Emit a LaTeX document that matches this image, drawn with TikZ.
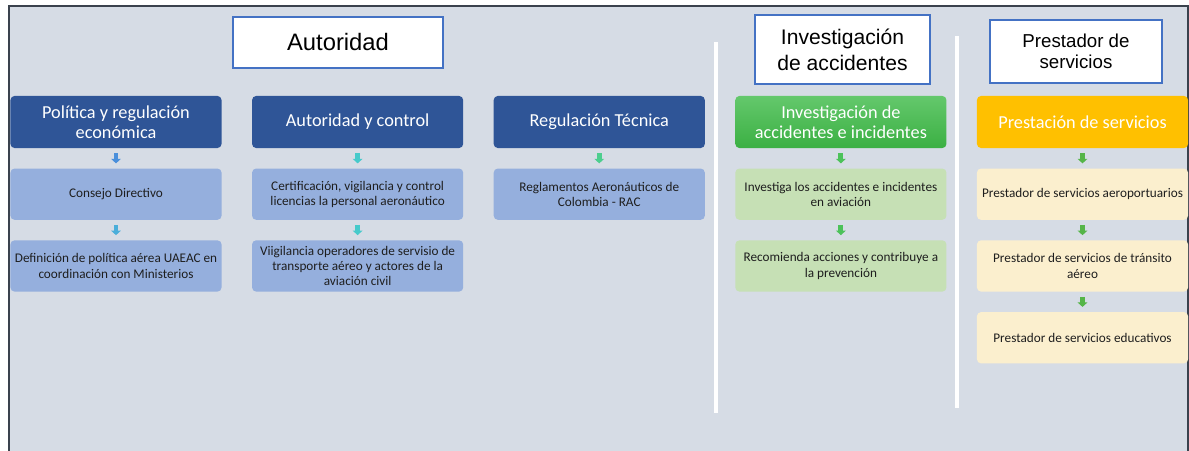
\documentclass[tikz,border=0pt]{standalone}
\usepackage{fontspec}
\setmainfont{Carlito}
\newfontfamily\titlefont{Liberation Sans}
\usetikzlibrary{positioning, arrows.meta}
\definecolor{bgcol}{HTML}{D6DCE5}
\definecolor{framecol}{HTML}{3A424D}
\definecolor{titleblue}{HTML}{4472C4}
\definecolor{headblue}{HTML}{2F5597}
\definecolor{subblue}{HTML}{95AFDD}
\definecolor{greentop}{HTML}{64C86C}
\definecolor{greenbot}{HTML}{3BB043}
\definecolor{subgreen}{HTML}{C6E0B5}
\definecolor{headorange}{HTML}{FFC000}
\definecolor{subyellow}{HTML}{FBEFCE}
\definecolor{subtext}{HTML}{1E1E1E}
\definecolor{arrblue}{HTML}{4A8FDB}
\definecolor{arrsky}{HTML}{4AAEDA}
\definecolor{arrteal}{HTML}{46CACB}
\definecolor{arrmint}{HTML}{4DCE8E}
\definecolor{arrgreen}{HTML}{4CC25A}
\definecolor{arrleaf}{HTML}{55B548}

\begin{document}
\begin{tikzpicture}[x=0.025cm, y=-0.025cm, node distance=0.5cm,
  head/.style={rounded corners=0.1cm, minimum width=5.275cm, minimum height=1.3cm,
    align=center, text=white, inner sep=1pt,
    font=\fontsize{13}{14.6}\selectfont},
  sub/.style={rounded corners=0.1cm, minimum width=5.275cm, minimum height=1.28cm,
    align=center, text=subtext, inner sep=1pt,
    font=\fontsize{9.4}{10.8}\selectfont},
  title/.style={draw=titleblue, line width=1.4pt, fill=white, align=center,
    inner sep=0pt, font=\titlefont},
  link/.style={line width=3.5pt, -{Triangle[width=6.8pt,length=3.2pt]},
    shorten <=3.5pt, shorten >=3.5pt},
  sep/.style={white, line width=2.8pt}]

\useasboundingbox (0,0) rectangle (1189,451);
\fill[bgcol] (9,6) rectangle (1189,451);
\draw[framecol, line width=1.3pt] (9,451) -- (9,6) -- (1188,6) -- (1188,451);

% separators
\draw[sep] (716,42) -- (716,413);
\draw[sep] (957,36) -- (957,408);

% titles
\node[title, minimum width=5.25cm, minimum height=1.275cm,
  font=\titlefont\fontsize{16.9}{20}\selectfont] (tAut) at (338,42.5) {Autoridad};
\node[title, minimum width=4.375cm, minimum height=1.725cm,
  font=\titlefont\fontsize{15}{18.4}\selectfont] (tInv) at (842.5,49.5)
  {Investigación\\de accidentes};
\node[title, minimum width=4.3cm, minimum height=1.575cm,
  font=\titlefont\fontsize{13.3}{14.5}\selectfont] (tPre) at (1076,51.5)
  {Prestador de\\servicios};

% headers
\node[head, fill=headblue] (hPol) at (116,122) {Política y regulación\\económica};
\node[head, fill=headblue, right=0.75cm of hPol] (hAut) {Autoridad y control};
\node[head, fill=headblue, right=0.75cm of hAut] (hReg) {Regulación Técnica};
\node[head, top color=greentop, bottom color=greenbot, right=0.75cm of hReg] (hInv)
  {Investigación de\\accidentes e incidentes};
\node[head, fill=headorange, right=0.75cm of hInv] (hPre) {Prestación de servicios};

% first column
\node[sub, fill=subblue, below=of hPol] (sCon) {Consejo Directivo};
\node[sub, fill=subblue, below=of sCon] (sDef)
  {Definición de política aérea UAEAC en\\coordinación con Ministerios};

% second column
\node[sub, fill=subblue, below=of hAut] (sCer)
  {Certificación, vigilancia y control\\licencias la personal aeronáutico};
\node[sub, fill=subblue, below=of sCer] (sVig)
  {Viigilancia operadores de servisio de\\transporte aéreo y actores de la\\aviación civil};

% third column
\node[sub, fill=subblue, below=of hReg] (sRac)
  {Reglamentos Aeronáuticos de\\Colombia - RAC};

% fourth column
\node[sub, fill=subgreen, below=of hInv] (sIve)
  {Investiga los accidentes e incidentes\\en aviación};
\node[sub, fill=subgreen, below=of sIve] (sRec)
  {Recomienda acciones y contribuye a\\la prevención};

% fifth column
\node[sub, fill=subyellow, below=of hPre] (sAer) {Prestador de servicios aeroportuarios};
\node[sub, fill=subyellow, below=of sAer] (sTra)
  {Prestador de servicios de tránsito\\aéreo};
\node[sub, fill=subyellow, below=of sTra] (sEdu) {Prestador de servicios educativos};

% arrows
\draw[link, arrblue] (hPol) -- (sCon);
\draw[link, arrsky] (sCon) -- (sDef);
\draw[link, arrteal] (hAut) -- (sCer);
\draw[link, arrteal] (sCer) -- (sVig);
\draw[link, arrmint] (hReg) -- (sRac);
\draw[link, arrgreen] (hInv) -- (sIve);
\draw[link, arrgreen] (sIve) -- (sRec);
\draw[link, arrleaf] (hPre) -- (sAer);
\draw[link, arrleaf] (sAer) -- (sTra);
\draw[link, arrleaf] (sTra) -- (sEdu);
\end{tikzpicture}
\end{document}
